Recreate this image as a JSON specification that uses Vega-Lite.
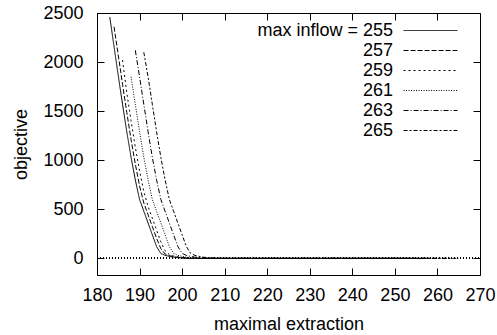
{
  "$schema": "https://vega.github.io/schema/vega-lite/v6.json",
  "width": 383,
  "height": 262,
  "autosize": "none",
  "padding": {"left": 97, "top": 13, "right": 17, "bottom": 60},
  "background": "white",
  "config": {
    "font": "Liberation Sans",
    "view": {"stroke": "black", "strokeWidth": 1},
    "axis": {
      "domain": false,
      "grid": false,
      "ticks": true,
      "tickColor": "black",
      "tickSize": 7,
      "tickWidth": 1,
      "offset": -7,
      "labelOverlap": false,
      "labelFlush": false,
      "labelFont": "Liberation Sans",
      "labelFontSize": 18,
      "labelColor": "black",
      "titleFont": "Liberation Sans",
      "titleFontSize": 18,
      "titleFontWeight": "normal",
      "titleColor": "black"
    },
    "legend": {
      "labelFont": "Liberation Sans",
      "labelFontSize": 18,
      "labelColor": "black"
    }
  },
  "data": {
    "values": [
      {"inflow": "255", "extraction": 183, "objective": 2460},
      {"inflow": "255", "extraction": 184, "objective": 2160},
      {"inflow": "255", "extraction": 185, "objective": 1860},
      {"inflow": "255", "extraction": 186, "objective": 1570},
      {"inflow": "255", "extraction": 187, "objective": 1290},
      {"inflow": "255", "extraction": 188, "objective": 1030},
      {"inflow": "255", "extraction": 189, "objective": 800},
      {"inflow": "255", "extraction": 190, "objective": 600},
      {"inflow": "255", "extraction": 191, "objective": 480},
      {"inflow": "255", "extraction": 192, "objective": 360},
      {"inflow": "255", "extraction": 193, "objective": 240},
      {"inflow": "255", "extraction": 194, "objective": 120},
      {"inflow": "255", "extraction": 195, "objective": 50},
      {"inflow": "255", "extraction": 196, "objective": 30},
      {"inflow": "255", "extraction": 197, "objective": 20},
      {"inflow": "255", "extraction": 198, "objective": 12},
      {"inflow": "255", "extraction": 199, "objective": 7},
      {"inflow": "255", "extraction": 200, "objective": 3},
      {"inflow": "255", "extraction": 201, "objective": 0},
      {"inflow": "255", "extraction": 255, "objective": 0},

      {"inflow": "257", "extraction": 184, "objective": 2360},
      {"inflow": "257", "extraction": 185, "objective": 2070},
      {"inflow": "257", "extraction": 186, "objective": 1773},
      {"inflow": "257", "extraction": 187, "objective": 1486},
      {"inflow": "257", "extraction": 188, "objective": 1212},
      {"inflow": "257", "extraction": 189, "objective": 961},
      {"inflow": "257", "extraction": 190, "objective": 740},
      {"inflow": "257", "extraction": 191, "objective": 564},
      {"inflow": "257", "extraction": 192, "objective": 444},
      {"inflow": "257", "extraction": 193, "objective": 324},
      {"inflow": "257", "extraction": 194, "objective": 204},
      {"inflow": "257", "extraction": 195, "objective": 99},
      {"inflow": "257", "extraction": 196, "objective": 44},
      {"inflow": "257", "extraction": 197, "objective": 27},
      {"inflow": "257", "extraction": 198, "objective": 18},
      {"inflow": "257", "extraction": 199, "objective": 10},
      {"inflow": "257", "extraction": 200, "objective": 6},
      {"inflow": "257", "extraction": 201, "objective": 2},
      {"inflow": "257", "extraction": 202, "objective": 0},
      {"inflow": "257", "extraction": 257, "objective": 0},

      {"inflow": "259", "extraction": 186, "objective": 2020},
      {"inflow": "259", "extraction": 187, "objective": 1686},
      {"inflow": "259", "extraction": 188, "objective": 1402},
      {"inflow": "259", "extraction": 189, "objective": 1134},
      {"inflow": "259", "extraction": 190, "objective": 892},
      {"inflow": "259", "extraction": 191, "objective": 680},
      {"inflow": "259", "extraction": 192, "objective": 528},
      {"inflow": "259", "extraction": 193, "objective": 408},
      {"inflow": "259", "extraction": 194, "objective": 288},
      {"inflow": "259", "extraction": 195, "objective": 168},
      {"inflow": "259", "extraction": 196, "objective": 78},
      {"inflow": "259", "extraction": 197, "objective": 38},
      {"inflow": "259", "extraction": 198, "objective": 24},
      {"inflow": "259", "extraction": 199, "objective": 15},
      {"inflow": "259", "extraction": 200, "objective": 9},
      {"inflow": "259", "extraction": 201, "objective": 5},
      {"inflow": "259", "extraction": 202, "objective": 1},
      {"inflow": "259", "extraction": 203, "objective": 0},
      {"inflow": "259", "extraction": 259, "objective": 0},

      {"inflow": "261", "extraction": 188, "objective": 1850},
      {"inflow": "261", "extraction": 189, "objective": 1570},
      {"inflow": "261", "extraction": 190, "objective": 1290},
      {"inflow": "261", "extraction": 191, "objective": 1030},
      {"inflow": "261", "extraction": 192, "objective": 800},
      {"inflow": "261", "extraction": 193, "objective": 600},
      {"inflow": "261", "extraction": 194, "objective": 480},
      {"inflow": "261", "extraction": 195, "objective": 360},
      {"inflow": "261", "extraction": 196, "objective": 240},
      {"inflow": "261", "extraction": 197, "objective": 120},
      {"inflow": "261", "extraction": 198, "objective": 50},
      {"inflow": "261", "extraction": 199, "objective": 30},
      {"inflow": "261", "extraction": 200, "objective": 20},
      {"inflow": "261", "extraction": 201, "objective": 12},
      {"inflow": "261", "extraction": 202, "objective": 7},
      {"inflow": "261", "extraction": 203, "objective": 3},
      {"inflow": "261", "extraction": 204, "objective": 0},
      {"inflow": "261", "extraction": 261, "objective": 0},

      {"inflow": "263", "extraction": 189, "objective": 2120},
      {"inflow": "263", "extraction": 190, "objective": 1850},
      {"inflow": "263", "extraction": 191, "objective": 1570},
      {"inflow": "263", "extraction": 192, "objective": 1290},
      {"inflow": "263", "extraction": 193, "objective": 1030},
      {"inflow": "263", "extraction": 194, "objective": 800},
      {"inflow": "263", "extraction": 195, "objective": 600},
      {"inflow": "263", "extraction": 196, "objective": 480},
      {"inflow": "263", "extraction": 197, "objective": 360},
      {"inflow": "263", "extraction": 198, "objective": 240},
      {"inflow": "263", "extraction": 199, "objective": 120},
      {"inflow": "263", "extraction": 200, "objective": 50},
      {"inflow": "263", "extraction": 201, "objective": 30},
      {"inflow": "263", "extraction": 202, "objective": 20},
      {"inflow": "263", "extraction": 203, "objective": 12},
      {"inflow": "263", "extraction": 204, "objective": 7},
      {"inflow": "263", "extraction": 205, "objective": 3},
      {"inflow": "263", "extraction": 206, "objective": 0},
      {"inflow": "263", "extraction": 263, "objective": 0},

      {"inflow": "265", "extraction": 191, "objective": 2100},
      {"inflow": "265", "extraction": 192, "objective": 1850},
      {"inflow": "265", "extraction": 193, "objective": 1570},
      {"inflow": "265", "extraction": 194, "objective": 1290},
      {"inflow": "265", "extraction": 195, "objective": 1030},
      {"inflow": "265", "extraction": 196, "objective": 800},
      {"inflow": "265", "extraction": 197, "objective": 600},
      {"inflow": "265", "extraction": 198, "objective": 480},
      {"inflow": "265", "extraction": 199, "objective": 360},
      {"inflow": "265", "extraction": 200, "objective": 240},
      {"inflow": "265", "extraction": 201, "objective": 120},
      {"inflow": "265", "extraction": 202, "objective": 50},
      {"inflow": "265", "extraction": 203, "objective": 30},
      {"inflow": "265", "extraction": 204, "objective": 20},
      {"inflow": "265", "extraction": 205, "objective": 12},
      {"inflow": "265", "extraction": 206, "objective": 7},
      {"inflow": "265", "extraction": 207, "objective": 3},
      {"inflow": "265", "extraction": 208, "objective": 0},
      {"inflow": "265", "extraction": 265, "objective": 0}
    ]
  },
  "layer": [
    {
      "mark": {"type": "rule", "color": "black", "strokeWidth": 1, "strokeDash": [1, 2]},
      "encoding": {
        "x": {"datum": 180, "type": "quantitative", "scale": {"domain": [180, 270], "nice": false, "zero": false},
              "axis": {"orient": "top", "labels": false, "title": null, "values": [180,190,200,210,220,230,240,250,260,270]}},
        "x2": {"datum": 270},
        "y": {"datum": 0, "type": "quantitative", "scale": {"domain": [-170, 2500], "nice": false, "zero": false},
              "axis": {"orient": "right", "labels": false, "title": null, "values": [0,500,1000,1500,2000,2500]}}
      }
    },
    {
      "mark": {"type": "line", "color": "black", "strokeWidth": 1, "clip": true},
      "encoding": {
        "x": {"field": "extraction", "type": "quantitative", "scale": {"domain": [180, 270], "nice": false, "zero": false},
              "axis": {"orient": "bottom", "title": "maximal extraction", "format": "d", "values": [180,190,200,210,220,230,240,250,260,270], "labelPadding": 11, "titlePadding": 11}},
        "y": {"field": "objective", "type": "quantitative", "scale": {"domain": [-170, 2500], "nice": false, "zero": false},
              "axis": {"orient": "left", "title": "objective", "format": "d", "values": [0,500,1000,1500,2000,2500], "labelPadding": 14, "titlePadding": 12}},
        "strokeDash": {
          "field": "inflow", "type": "nominal",
          "scale": {"domain": ["255","257","259","261","263","265"],
                    "range": [[1,0],[5,2],[2,3],[1,1.5],[5,2,1,2],[4,2,2,2]]},
          "legend": {
            "title": null,
            "orient": "none",
            "legendX": 323,
            "legendY": 7,
            "padding": 0,
            "symbolType": "M-2.8,0H2.8",
            "symbolSize": 370,
            "symbolStrokeColor": "black",
            "symbolStrokeWidth": 1,
            "rowPadding": -0.4,
            "labelAlign": "right",
            "labelOffset": -48,
            "labelExpr": "datum.label == '255' ? 'max inflow = 255' : datum.label"
          }
        },
        "detail": {"field": "inflow"}
      }
    }
  ],
  "resolve": {"axis": {"x": "independent", "y": "independent"}}
}
